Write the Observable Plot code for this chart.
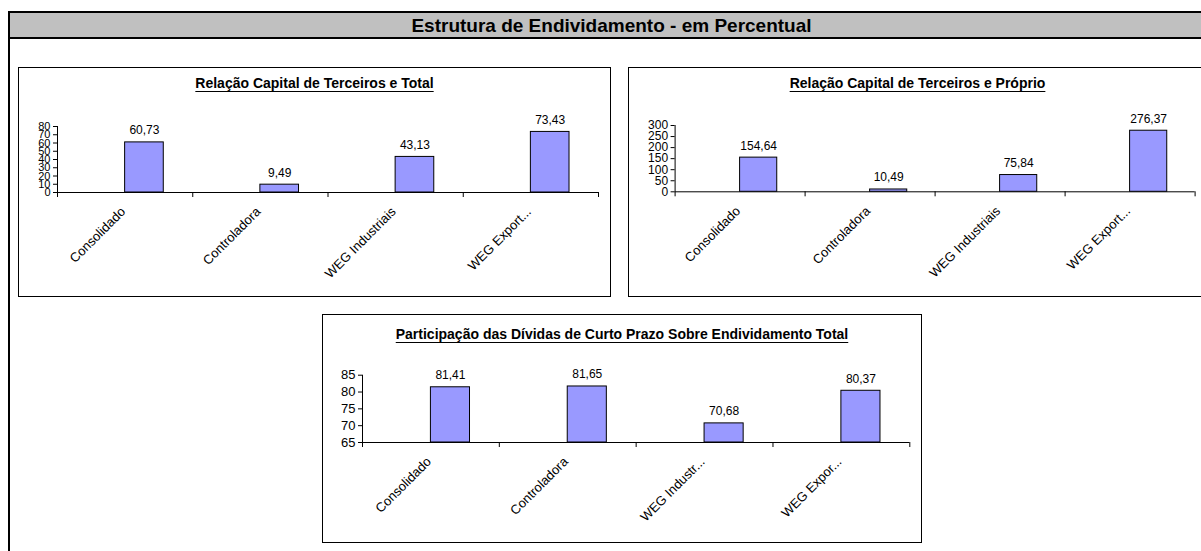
<!DOCTYPE html>
<html lang="pt-BR">
<head>
<meta charset="utf-8">
<title>Estrutura de Endividamento - em Percentual</title>
<script src="https://cdn.jsdelivr.net/npm/d3@7"></script>
<script src="https://cdn.jsdelivr.net/npm/@observablehq/plot@0.6"></script>
<style>
  html, body { margin: 0; padding: 0; background: #fff; }
  body {
    width: 1201px; height: 551px; overflow: hidden; position: relative;
    font-family: "Liberation Sans", Arial, sans-serif; color: #000;
  }
  #frame {
    position: absolute; left: 8px; top: 11px; width: 1203px; height: 600px;
    border-left: 2px solid #000; border-top: 2px solid #000;
  }
  #header {
    position: absolute; left: 0; top: 0; width: 100%; height: 23px;
    background: #c0c0c0; border-bottom: 2px solid #000;
    text-align: center; font-weight: bold; font-size: 19px; line-height: 23px;
    padding-top: 1px; box-sizing: content-box;
  }
  .box { position: absolute; border: 1px solid #000; background: #fff; }
  .box .title {
    position: absolute; left: 0; right: 0; text-align: center;
    font-weight: bold; font-size: 14px; line-height: 1;
    text-decoration: underline; text-decoration-thickness: 1px; text-underline-offset: 3px;
    white-space: nowrap;
  }
  .box svg { position: absolute; left: 0; top: 0; }
</style>
</head>
<body>
<div id="frame"><div id="header">Estrutura de Endividamento - em Percentual</div></div>
<div id="charts"></div>
<script>
// Categorias (rótulos do eixo X)
const categoriasCapital = ["Consolidado", "Controladora", "WEG Industriais", "WEG Export..."];
const categoriasCurtoPrazo = ["Consolidado", "Controladora", "WEG Industr...", "WEG Expor..."];

// Valores (%)
const terceirosTotal = [60.73, 9.49, 43.13, 73.43];
const terceirosProprio = [154.64, 10.49, 75.84, 276.37];
const curtoPrazoTotal = [81.41, 81.65, 70.68, 80.37];

// Marcas do eixo Y
const ticksTotal = [0, 10, 20, 30, 40, 50, 60, 70, 80];
const ticksProprio = [0, 50, 100, 150, 200, 250, 300];
const ticksCurtoPrazo = [65, 70, 75, 80, 85];

// Títulos
const tituloTotal = "Relação Capital de Terceiros e Total";
const tituloProprio = "Relação Capital de Terceiros e Próprio";
const tituloCurtoPrazo = "Participação das Dívidas de Curto Prazo Sobre Endividamento Total";

// Formato brasileiro: vírgula decimal
const br = d3.formatLocale({decimal: ",", thousands: ".", grouping: [3], currency: ["R$ ", ""]});
const fmt = br.format(".2f");

// Excel-like cluster: the bar occupies the second half of each category slot
const BAR = 2 / 7;

function barChart({categories, values, ticks, title, box, margin, tickFont, titleTop}) {
  const rows = categories.map((c, i) => ({c, i, v: values[i]}));
  const y0 = ticks[0];

  const wrap = document.createElement("div");
  wrap.className = "box";
  Object.assign(wrap.style, {
    left: box.left + "px", top: box.top + "px",
    width: box.width + "px", height: box.height + "px"
  });

  const plot = Plot.plot({
    width: box.width,
    height: box.height,
    marginLeft: margin.left,
    marginRight: margin.right,
    marginTop: margin.top,
    marginBottom: margin.bottom,
    style: {
      fontFamily: '"Liberation Sans", Arial, sans-serif',
      fontSize: "12px",
      color: "#000",
      background: "transparent",
      overflow: "visible"
    },
    x: {type: "linear", domain: [0, categories.length], axis: null},
    y: {domain: [y0, ticks[ticks.length - 1]], axis: null},
    marks: [
      Plot.axisY({ticks, tickSize: 4, tickPadding: 3, label: null, fontSize: tickFont, tickFormat: (d) => String(d)}),
      Plot.axisX({ticks: d3.range(categories.length + 1), tickSize: 5, label: null, tickFormat: () => ""}),
      Plot.ruleX([0], {stroke: "#000"}),
      Plot.ruleY([y0], {stroke: "#000"}),
      Plot.rectY(rows, {
        x1: (d) => d.i + 0.5,
        x2: (d) => d.i + 0.5 + BAR,
        y1: y0,
        y2: "v",
        fill: "#9999ff",
        stroke: "#000",
        strokeWidth: 1
      }),
      Plot.text(rows, {
        x: (d) => d.i + 0.5 + BAR / 2,
        y: "v",
        text: (d) => fmt(d.v),
        lineAnchor: "bottom",
        dy: -8,
        fontSize: 12
      }),
      Plot.text(rows, {
        x: (d) => d.i + 0.5,
        y: y0,
        text: "c",
        rotate: -45,
        textAnchor: "end",
        lineAnchor: "bottom",
        dx: 1,
        dy: 20,
        fontSize: 13
      })
    ]
  });
  wrap.appendChild(plot);

  const t = document.createElement("div");
  t.className = "title";
  t.textContent = title;
  t.style.top = titleTop + "px";
  wrap.appendChild(t);

  document.getElementById("charts").appendChild(wrap);
}

barChart({
  categories: categoriasCapital, values: terceirosTotal, ticks: ticksTotal, title: tituloTotal,
  box: {left: 18, top: 67, width: 591, height: 228},
  margin: {left: 38, right: 12, top: 58, bottom: 104},
  tickFont: 11, titleTop: 8
});

barChart({
  categories: categoriasCapital, values: terceirosProprio, ticks: ticksProprio, title: tituloProprio,
  box: {left: 628, top: 67, width: 577, height: 228},
  margin: {left: 45.6, right: 11.4, top: 57, bottom: 104.7},
  tickFont: 12, titleTop: 8
});

barChart({
  categories: categoriasCurtoPrazo, values: curtoPrazoTotal, ticks: ticksCurtoPrazo, title: tituloCurtoPrazo,
  box: {left: 322, top: 314, width: 598, height: 227},
  margin: {left: 39, right: 11.7, top: 59.7, bottom: 100},
  tickFont: 13, titleTop: 11.5
});
</script>
</body>
</html>
